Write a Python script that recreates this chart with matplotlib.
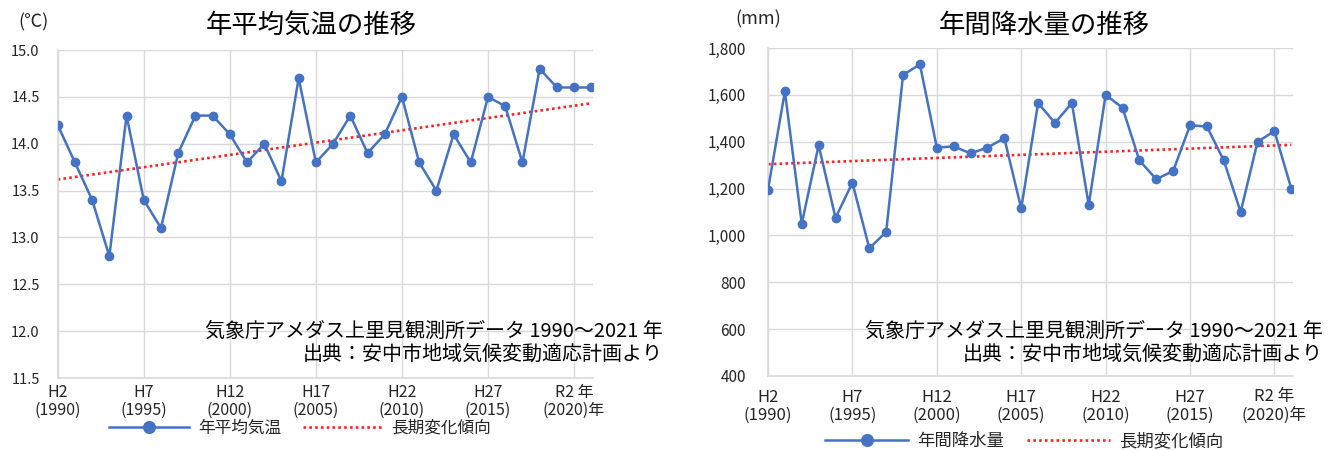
import numpy as np
import matplotlib
matplotlib.use('Agg')
import matplotlib.pyplot as plt

plt.rcParams['font.family'] = ['Noto Sans CJK JP', 'DejaVu Sans']

years = np.arange(1990, 2022)
temp = [14.2, 13.8, 13.4, 12.8, 14.3, 13.4, 13.1, 13.9, 14.3, 14.3,
        14.1, 13.8, 14.0, 13.6, 14.7, 13.8, 14.0, 14.3, 13.9, 14.1,
        14.5, 13.8, 13.5, 14.1, 13.8, 14.5, 14.4, 13.8, 14.8, 14.6,
        14.6, 14.6]
precip = [1195, 1615, 1050, 1385, 1075, 1225, 945, 1015, 1685, 1730,
          1375, 1380, 1350, 1375, 1415, 1115, 1565, 1480, 1565, 1130,
          1600, 1545, 1320, 1240, 1275, 1470, 1465, 1320, 1100, 1400,
          1445, 1200]
tick_years = [1990, 1995, 2000, 2005, 2010, 2015, 2020]
tick_labels = ['H2\n(1990)', 'H7\n(1995)', 'H12\n(2000)', 'H17\n(2005)',
               'H22\n(2010)', 'H27\n(2015)', 'R2 年\n(2020)年']
source = '気象庁アメダス上里見観測所データ 1990～2021 年\n出典：安中市地域気候変動適応計画より'

BLUE = '#4472C4'
RED = '#FF2020'
GRID = '#D9D9D9'
TXT = '#262626'

W, H = 1336, 450
fig = plt.figure(figsize=(W/100, H/100), dpi=100)

def px(x0, y0, x1, y1):
    # pixel box -> figure fraction [left, bottom, width, height]
    return [x0/W, 1-y1/H, (x1-x0)/W, (y1-y0)/H]

def panel(box, y, ylim, yticks, yfmt, series_name, title, unit, tpos, upos,
          ypad, xpad, yfs, xfs, srcpos, legpos, legfs):
    ax = fig.add_axes(px(*box))
    ax.plot(years, y, color=BLUE, lw=1.8, marker='o', ms=6, label=series_name, zorder=3)
    k, b = np.polyfit(years, y, 1)
    ax.plot(years, k*years+b, color=RED, lw=1.9, ls=(0, (1, 1.2)), label='長期変化傾向', zorder=2)
    ax.set_xlim(1990, 2021.1)
    ax.set_ylim(*ylim)
    ax.set_yticks(yticks)
    ax.set_yticklabels([yfmt(v) for v in yticks])
    ax.set_xticks(tick_years)
    ax.set_xticklabels(tick_labels, linespacing=1.1)
    ax.grid(True, color=GRID, lw=1)
    ax.set_axisbelow(True)
    for s in ['top', 'right']:
        ax.spines[s].set_visible(False)
    for s in ['left', 'bottom']:
        ax.spines[s].set_color(GRID)
        ax.spines[s].set_linewidth(1.2)
    ax.tick_params(axis='both', length=0, colors=TXT)
    ax.tick_params(axis='y', pad=ypad, labelsize=yfs)
    ax.tick_params(axis='x', pad=xpad, labelsize=xfs)
    fig.text(tpos[0]/W, 1-tpos[1]/H, title, ha='center', va='center', fontsize=19, color='black')
    fig.text(upos[0]/W, 1-upos[1]/H, unit, ha='center', va='center', fontsize=13, color=TXT)
    fig.text(srcpos[0]/W, 1-srcpos[1]/H, source, ha='right', va='center', fontsize=14.4,
             color='black', linespacing=1.12)
    fig.legend(*ax.get_legend_handles_labels(), loc='center',
               bbox_to_anchor=(legpos[0]/W, 1-legpos[1]/H), ncol=2, frameon=False,
               fontsize=legfs, handlelength=4.8, handletextpad=0.5, columnspacing=1.3,
               markerscale=1.4, labelcolor=TXT)
    return ax

panel((57.7, 50, 593, 378), temp, (11.5, 15.0), np.arange(11.5, 15.01, 0.5),
      lambda v: '%.1f' % v, '年平均気温', '年平均気温の推移', '(℃)',
      (311, 25), (34, 22), 13, 4, 10.5, 11.5, (663, 343), (300, 428), 12)

panel((768, 48, 1293, 376), precip, (400, 1800), np.arange(400, 1801, 200),
      lambda v: '{:,}'.format(int(v)), '年間降水量', '年間降水量の推移', '(mm)',
      (1044, 25), (758, 19), 16, 9, 11, 12, (1323, 343), (1024, 441), 12.5)

fig.savefig('out.png', dpi=100)
